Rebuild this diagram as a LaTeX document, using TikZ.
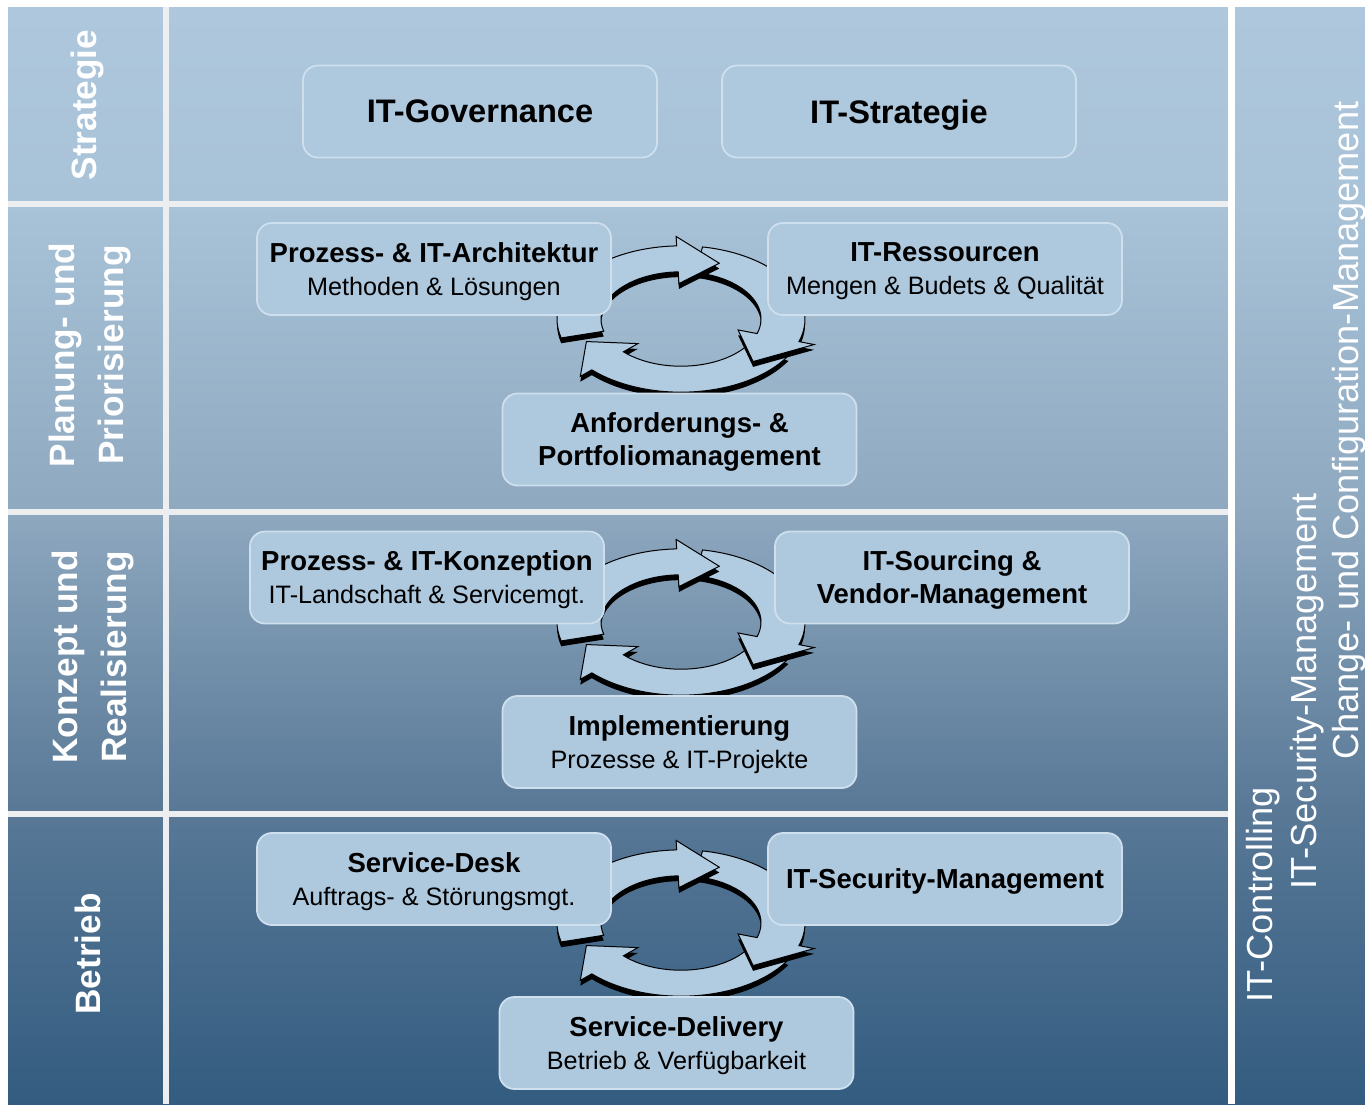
\documentclass[tikz,border=0pt]{standalone}
\usepackage{fontspec}
\setmainfont{Liberation Sans}
\usepackage{tikz}
\usetikzlibrary{positioning}

\definecolor{bgtop}{RGB}{174,199,221}
\definecolor{bgupper}{RGB}{168,194,216}
\definecolor{bgmid}{RGB}{143,169,192}
\definecolor{bglow}{RGB}{88,120,150}
\definecolor{bgbottom}{RGB}{51,92,128}
\definecolor{boxfill}{RGB}{174,200,222}
\definecolor{boxline}{RGB}{206,223,238}
\definecolor{arrowfill}{RGB}{177,203,225}
\definecolor{gridline}{RGB}{236,238,240}

\pgfdeclareverticalshading{itbg}{100bp}{color(0bp)=(bgbottom); color(25bp)=(bgbottom);
  color(38.32bp)=(bglow); color(52.36bp)=(bgmid); color(65.94bp)=(bgupper);
  color(75bp)=(bgtop); color(100bp)=(bgtop)}

\newcommand{\boxtitle}[1]{{\fontsize{13.75}{16.5}\selectfont\bfseries #1}}
% one curved arrow of the cycle: tail angle, head base angle, tip angle
\newcommand{\cyclearrow}[3]{(#1:124) arc[start angle=#1, end angle=#2, radius=124]
  -- (#2:140) -- (#3:102) -- (#2:60) -- (#2:80)
  arc[start angle=#2, end angle=#1, radius=80] -- cycle}

\begin{document}
\begin{tikzpicture}[x=0.5pt, y=-0.5pt,
    itbox/.style={draw=boxline, fill=boxfill, line width=0.9pt, rounded corners=7.5pt,
        minimum width=177pt, minimum height=46pt, align=center, inner sep=2pt,
        text depth=0pt, font=\fontsize{12.6}{16.5}\selectfont},
    rowlabel/.style={rotate=90, text=white, align=center, inner sep=0pt,
        font=\fontsize{17.6}{24.5}\selectfont\bfseries},
    sidelabel/.style={rotate=90, text=white, anchor=base west, inner sep=0pt,
        font=\fontsize{18.1}{22}\selectfont},
    sep/.style={draw=gridline, line width=3pt},
    arrowshadow/.style={fill=black, shift={(0,-9)}},
    arrowbody/.style={fill=arrowfill, draw=black, line width=0.5pt}]
    \useasboundingbox (0,0) rectangle (1365,1104);
    \fill[white] (0,0) rectangle (1365,1104);
    \shade[shading=itbg] (8,7) rectangle (1365,1104);

    % grid
    \draw[sep] (165.5,7) -- (165.5,1104);
    \foreach \ly in {203.5,511.5,813.5}
        \draw[sep] (8,\ly) -- (1228,\ly);
    \draw[white, line width=3.5pt] (1231,0) -- (1231,1104);

    % cycles
    \foreach \cy in {319,622,923} {
        \begin{scope}[shift={(681,\cy)}, yscale=-0.59]
            \fill[arrowshadow] \cyclearrow{-30}{-136}{-158};
            \filldraw[arrowbody] \cyclearrow{-30}{-136}{-158};
            \fill[arrowshadow] \cyclearrow{80}{-18}{-45};
            \filldraw[arrowbody] \cyclearrow{80}{-18}{-45};
            \fill[arrowshadow] \cyclearrow{195}{92}{68};
            \filldraw[arrowbody] \cyclearrow{195}{92}{68};
        \end{scope}
    }

    % row labels
    \node[rowlabel] (strlabel) at (87,105) {Strategie};
    \node[rowlabel] (planlabel) at (90,355) {Planung- und\\Priorisierung};
    \node[rowlabel] (konzlabel) at (93,657) {Konzept und\\Realisierung};
    \node[rowlabel] (betrlabel) at (88,954) {Betrieb};

    % boxes
    \node[itbox] (gov) at (480,111.5) {\fontsize{16.3}{20}\selectfont\bfseries IT-Governance};
    \node[itbox] (strat) at (899,111.5) {\fontsize{16.3}{20}\selectfont\bfseries IT-Strategie};

    \node[itbox] (arch) at (434,269) {\boxtitle{Prozess- \& IT-Architektur}\\Methoden \& Lösungen};
    \node[itbox] (res) at (945,269) {\boxtitle{IT-Ressourcen}\\Mengen \& Budets \& Qualität};
    \node[itbox] (anf) at (679.5,439.5) {\boxtitle{Anforderungs- \&}\\\boxtitle{Portfoliomanagement}};

    \node[itbox] (konz) at (427,577.5) {\boxtitle{Prozess- \& IT-Konzeption}\\IT-Landschaft \& Servicemgt.};
    \node[itbox] (sourcing) at (952,577.5) {\boxtitle{IT-Sourcing \&}\\\boxtitle{Vendor-Management}};
    \node[itbox] (impl) at (679.5,742) {\boxtitle{Implementierung}\\Prozesse \& IT-Projekte};

    \node[itbox] (desk) at (434,879) {\boxtitle{Service-Desk}\\Auftrags- \& Störungsmgt.};
    \node[itbox] (secmgt) at (945,879) {\boxtitle{IT-Security-Management}};
    \node[itbox] (delivery) at (676.5,1043) {\boxtitle{Service-Delivery}\\Betrieb \& Verfügbarkeit};

    % side column
    \node[sidelabel] (ctrl) at (1272,1003) {IT-Controlling};
    \node[sidelabel] (secside) at (1316,890) {IT-Security-Management};
    \node[sidelabel] (change) at (1358,760) {Change- und Configuration-Management};
\end{tikzpicture}
\end{document}
